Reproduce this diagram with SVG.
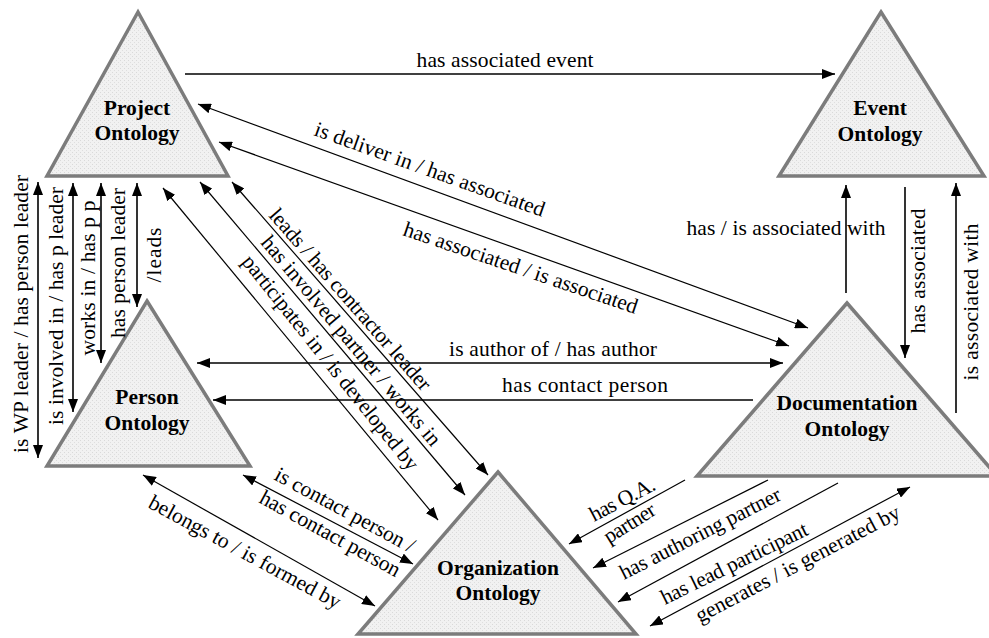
<svg xmlns="http://www.w3.org/2000/svg" width="989" height="638" viewBox="0 0 989 638">
  <style>
    .tri { fill: url(#grain); stroke: #7c7c7c; stroke-width: 3.5; stroke-linejoin: miter; }
    .nl { font-family: "Liberation Serif", "Times New Roman", serif; font-weight: bold; font-size: 21.5px; fill: #000; text-anchor: middle; }
    .el { font-family: "Liberation Serif", "Times New Roman", serif; font-size: 21.5px; fill: #000; }
    .mid { text-anchor: middle; }
    .c { stroke: #000; fill: none; }
    .hv { stroke-width: 1.6; }
    .dg { stroke-width: 1.2; }
    .e { marker-end: url(#ah); }
    .s { marker-start: url(#ah); }
  </style>
  <defs>
    <pattern id="grain" width="4" height="4" patternUnits="userSpaceOnUse">
      <rect width="4" height="4" fill="#f1f1f1"/>
      <rect x="0" y="0" width="1" height="1" fill="#d9d9d9"/>
      <rect x="2" y="2" width="1" height="1" fill="#dedede"/>
    </pattern>
    <marker id="ah" viewBox="0 0 13 10" refX="13" refY="5" markerWidth="13" markerHeight="10" markerUnits="userSpaceOnUse" orient="auto-start-reverse">
      <path d="M0,0 L13,5 L0,10 z" fill="#000"/>
    </marker>
  </defs>

  <rect width="989" height="638" fill="#fff"/>

  <!-- ontology nodes -->
  <g id="project">
    <polygon class="tri" points="138,12 228,176 47,176"/>
    <text class="nl" x="137" y="115">Project</text>
    <text class="nl" x="137" y="140">Ontology</text>
  </g>
  <g id="event">
    <polygon class="tri" points="881,12 984,176 779,176"/>
    <text class="nl" x="880" y="115">Event</text>
    <text class="nl" x="880" y="141">Ontology</text>
  </g>
  <g id="person">
    <polygon class="tri" points="147,301 250,466 47,466"/>
    <text class="nl" x="147" y="404">Person</text>
    <text class="nl" x="147" y="430">Ontology</text>
  </g>
  <g id="documentation">
    <polygon class="tri" points="847,303 997,476 697,476"/>
    <text class="nl" x="847" y="410">Documentation</text>
    <text class="nl" x="847" y="436">Ontology</text>
  </g>
  <g id="organization">
    <polygon class="tri" points="498,472 636,634 358,634"/>
    <text class="nl" x="498" y="575">Organization</text>
    <text class="nl" x="498" y="600">Ontology</text>
  </g>

  <!-- relations -->
  <g id="connectors">
    <!-- project -> event -->
    <line class="c hv e" x1="185" y1="74" x2="835" y2="74"/>
    <text class="el mid" x="505" y="67" textLength="177">has associated event</text>

    <!-- project <-> documentation -->
    <line class="c dg s e" x1="198" y1="104" x2="808" y2="328"/>
    <text class="el" transform="translate(313,135) rotate(19.7)" textLength="243">is deliver in / has associated</text>
    <line class="c dg s e" x1="219" y1="142" x2="789" y2="346"/>
    <text class="el" transform="translate(402,235) rotate(18.7)" textLength="246">has associated / is associated</text>

    <!-- project <-> person (vertical) -->
    <line class="c hv s e" x1="38" y1="182" x2="38" y2="458"/>
    <text class="el mid" transform="translate(28,314) rotate(-90)" textLength="278">is WP leader / has person leader</text>
    <line class="c hv s e" x1="73" y1="183" x2="73" y2="412"/>
    <text class="el mid" transform="translate(63,306) rotate(-90)" textLength="238">is involved in / has p leader</text>
    <line class="c hv s e" x1="101" y1="183" x2="101" y2="363"/>
    <text class="el mid" transform="translate(95,278) rotate(-90)" textLength="155">works in / has p p</text>
    <line class="c hv s e" x1="137" y1="183" x2="137" y2="307"/>
    <text class="el mid" transform="translate(125,263) rotate(-90)" textLength="150">has person leader</text>
    <text class="el mid" transform="translate(161,255) rotate(-90)" textLength="55">/leads</text>

    <!-- project <-> organization -->
    <line class="c dg s e" x1="232" y1="182" x2="488" y2="475"/>
    <text class="el" transform="translate(268,216) rotate(48.8)" textLength="234">leads / has contractor leader</text>
    <line class="c dg s e" x1="200" y1="182" x2="465" y2="495"/>
    <text class="el" transform="translate(260,243) rotate(50)" textLength="267">has involved partner / works in</text>
    <line class="c dg s e" x1="163" y1="188" x2="438" y2="520"/>
    <text class="el" transform="translate(241,262) rotate(51.3)" textLength="269">participates in / is developed by</text>

    <!-- person <-> documentation -->
    <line class="c hv s e" x1="197" y1="363" x2="783" y2="363"/>
    <text class="el mid" x="553" y="356" textLength="208">is author of / has author</text>
    <line class="c hv e" x1="753" y1="400" x2="213" y2="400"/>
    <text class="el mid" x="585" y="392" textLength="166">has contact person</text>

    <!-- person <-> organization -->
    <line class="c dg s e" x1="243" y1="475" x2="413" y2="564"/>
    <text class="el" transform="translate(273,479) rotate(28.4)" textLength="156">is contact person /</text>
    <text class="el" transform="translate(258,502) rotate(28.7)" textLength="157">has contact person</text>
    <line class="c dg s e" x1="143" y1="475" x2="375" y2="606"/>
    <text class="el" transform="translate(147,507) rotate(28.4)" textLength="215">belongs to / is formed by</text>

    <!-- documentation <-> event -->
    <line class="c hv e" x1="846" y1="293" x2="846" y2="185"/>
    <text class="el mid" x="786" y="235" textLength="199">has / is associated with</text>
    <line class="c hv e" x1="905" y1="187" x2="905" y2="358"/>
    <text class="el mid" transform="translate(925,271) rotate(-90)" textLength="125">has associated</text>
    <line class="c hv e" x1="956" y1="413" x2="956" y2="183"/>
    <text class="el mid" transform="translate(978,302) rotate(-90)" textLength="157">is associated with</text>

    <!-- documentation <-> organization -->
    <line class="c dg e" x1="685" y1="480" x2="569" y2="544"/>
    <text class="el" transform="translate(594,522) rotate(-27.6)" textLength="71">has Q.A.</text>
    <text class="el" transform="translate(609,544) rotate(-32)" textLength="57">partner</text>
    <line class="c dg e" x1="768" y1="480" x2="593" y2="568"/>
    <text class="el" transform="translate(624,580) rotate(-27)" textLength="178">has authoring partner</text>
    <line class="c dg e" x1="838" y1="483" x2="618" y2="602"/>
    <text class="el" transform="translate(665,605) rotate(-26.1)" textLength="161">has lead participant</text>
    <line class="c dg s e" x1="650" y1="626" x2="910" y2="487"/>
    <text class="el" transform="translate(700,623) rotate(-27.7)" textLength="228">generates / is generated by</text>
  </g>
</svg>
